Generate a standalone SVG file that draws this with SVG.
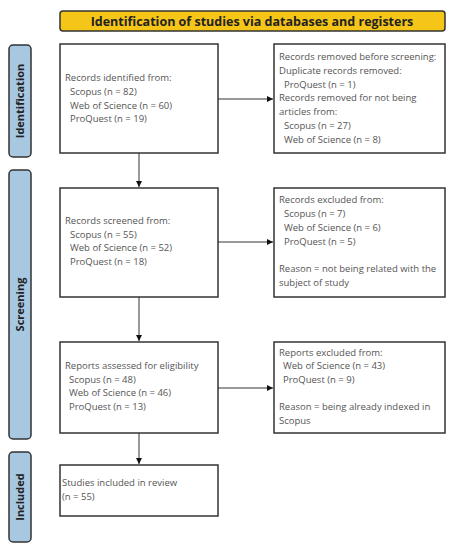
<svg xmlns="http://www.w3.org/2000/svg" width="454" height="550" viewBox="0 0 454 550">
<defs>
<style>
.box{fill:#fff;stroke:#333;stroke-width:1.5}
.side{fill:#a8c8e2;stroke:#333;stroke-width:1.5}
.t{font-family:"Open Sans","Liberation Sans",sans-serif;font-size:9.5px;fill:#555}
.sl{font-family:"Open Sans","Liberation Sans",sans-serif;font-size:11px;font-weight:bold;fill:#222;text-anchor:middle}
.ln{stroke:#333;stroke-width:1;fill:none;marker-end:url(#ah)}
</style>
<marker id="ah" viewBox="0 0 10 10" refX="10" refY="5" markerWidth="8" markerHeight="6" markerUnits="userSpaceOnUse" orient="auto">
<path d="M0,0 L10,5 L0,10 z" fill="#111"/>
</marker>
</defs>
<rect width="454" height="550" fill="#fff"/>
<g id="title">
<rect x="60" y="11" width="385" height="20" rx="3" fill="#f5c518" stroke="#333" stroke-width="1.5"/>
<text x="252" y="25.5" text-anchor="middle" style="font-family:'Open Sans','Liberation Sans',sans-serif;font-size:12.5px;font-weight:bold;fill:#222">Identification of studies via databases and registers</text>
</g>
<g id="side-identification">
<rect class="side" x="9" y="45" width="22" height="112" rx="4"/>
<text class="sl" transform="translate(24,101) rotate(-90)">Identification</text>
</g>
<g id="side-screening">
<rect class="side" x="9" y="170" width="22" height="269" rx="4"/>
<text class="sl" transform="translate(24,304.5) rotate(-90)">Screening</text>
</g>
<g id="side-included">
<rect class="side" x="9" y="452" width="22" height="90" rx="4"/>
<text class="sl" transform="translate(24,497) rotate(-90)">Included</text>
</g>
<g id="n1">
<rect class="box" x="60" y="44" width="158" height="109"/>
<text class="t" x="65" y="81">Records identified from:</text>
<text class="t" x="70" y="95">Scopus (n = 82)</text>
<text class="t" x="70" y="109">Web of Science (n = 60)</text>
<text class="t" x="70" y="122">ProQuest (n = 19)</text>
</g>
<g id="n2">
<rect class="box" x="274" y="44" width="171" height="109"/>
<text class="t" x="279" y="60">Records removed before screening:</text>
<text class="t" x="279" y="74">Duplicate records removed:</text>
<text class="t" x="284" y="88">ProQuest (n = 1)</text>
<text class="t" x="279" y="101">Records removed for not being</text>
<text class="t" x="279" y="115">articles from:</text>
<text class="t" x="284" y="129">Scopus (n = 27)</text>
<text class="t" x="284" y="143">Web of Science (n = 8)</text>
</g>
<g id="n3">
<rect class="box" x="60" y="188" width="158" height="109"/>
<text class="t" x="65" y="224">Records screened from:</text>
<text class="t" x="70" y="238">Scopus (n = 55)</text>
<text class="t" x="70" y="251">Web of Science (n = 52)</text>
<text class="t" x="70" y="265">ProQuest (n = 18)</text>
</g>
<g id="n4">
<rect class="box" x="274" y="188" width="171" height="109"/>
<text class="t" x="279" y="203">Records excluded from:</text>
<text class="t" x="284" y="217">Scopus (n = 7)</text>
<text class="t" x="284" y="231">Web of Science (n = 6)</text>
<text class="t" x="284" y="245">ProQuest (n = 5)</text>
<text class="t" x="279" y="272">Reason = not being related with the</text>
<text class="t" x="279" y="286">subject of study</text>
</g>
<g id="n5">
<rect class="box" x="60" y="342" width="158" height="91"/>
<text class="t" x="65" y="369">Reports assessed for eligibility</text>
<text class="t" x="69" y="383">Scopus (n = 48)</text>
<text class="t" x="69" y="396">Web of Science (n = 46)</text>
<text class="t" x="69" y="410">ProQuest (n = 13)</text>
</g>
<g id="n6">
<rect class="box" x="274" y="342" width="171" height="91"/>
<text class="t" x="279" y="356">Reports excluded from:</text>
<text class="t" x="283" y="369">Web of Science (n = 43)</text>
<text class="t" x="283" y="383">ProQuest (n = 9)</text>
<text class="t" x="279" y="410">Reason = being already indexed in</text>
<text class="t" x="279" y="424">Scopus</text>
</g>
<g id="n7">
<rect class="box" x="60" y="465" width="158" height="51"/>
<text class="t" x="62" y="486">Studies included in review</text>
<text class="t" x="62" y="500">(n = 55)</text>
</g>
<g id="connectors">
<line class="ln" x1="218" y1="99" x2="273" y2="99"/>
<line class="ln" x1="139" y1="153" x2="139" y2="187"/>
<line class="ln" x1="218" y1="242" x2="273" y2="242"/>
<line class="ln" x1="139" y1="297" x2="139" y2="341"/>
<line class="ln" x1="218" y1="388" x2="273" y2="388"/>
<line class="ln" x1="139" y1="433" x2="139" y2="464"/>
</g>
</svg>
